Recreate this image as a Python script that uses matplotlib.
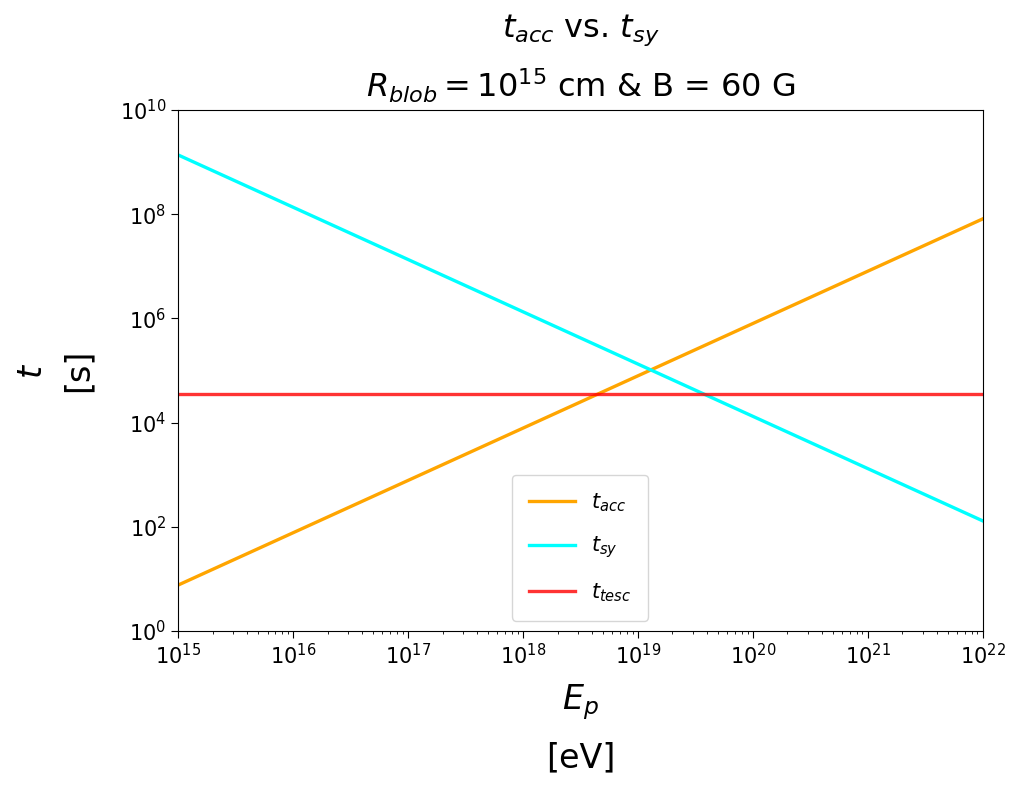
import numpy as np
import matplotlib
matplotlib.use('Agg')
import matplotlib.pyplot as plt

# energies [eV] at the ends of the plotted range
E_p = [1e15, 1e22]

# timescales [s] at those energies
t_acc = [7.6e0, 8.1e7]
t_sy = [1.37e9, 1.3e2]
t_esc = [3.5e4, 3.5e4]

labels = [r'$t_{acc}$', r'$t_{sy}$', r'$t_{tesc}$']
colors = ['orange', 'cyan', 'red']

fig = plt.figure(figsize=(10.12, 7.91), dpi=100)
ax = fig.add_axes([0.176, 0.2023, 0.795, 0.6587])

ax.plot(E_p, t_acc, color=colors[0], lw=2.4, label=labels[0])
ax.plot(E_p, t_sy, color=colors[1], lw=2.4, label=labels[1])
ax.plot(E_p, t_esc, color=colors[2], lw=2.4, alpha=0.8, label=labels[2])

ax.set_xscale('log')
ax.set_yscale('log')
ax.set_xlim(1e15, 1e22)
ax.set_ylim(1e0, 1e10)
ax.tick_params(labelsize=15, length=5)

ax.set_xlabel(r'$E_p$' + '\n[eV]', fontsize=24, linespacing=1.75, labelpad=10)
ax.set_ylabel(r'$t$' + '\n[s]', fontsize=24, linespacing=1.5, labelpad=18)
ax.set_title(r'$t_{acc}$ vs. $t_{sy}$' + '\n' + r'$R_{blob} = 10^{15}$ cm & B = 60 G',
             fontsize=23, linespacing=1.6, pad=9)
ax.legend(loc='lower center', fontsize=15, borderpad=0.8, labelspacing=1.0,
          handlelength=2.2)

fig.savefig('out.png', dpi=100)
